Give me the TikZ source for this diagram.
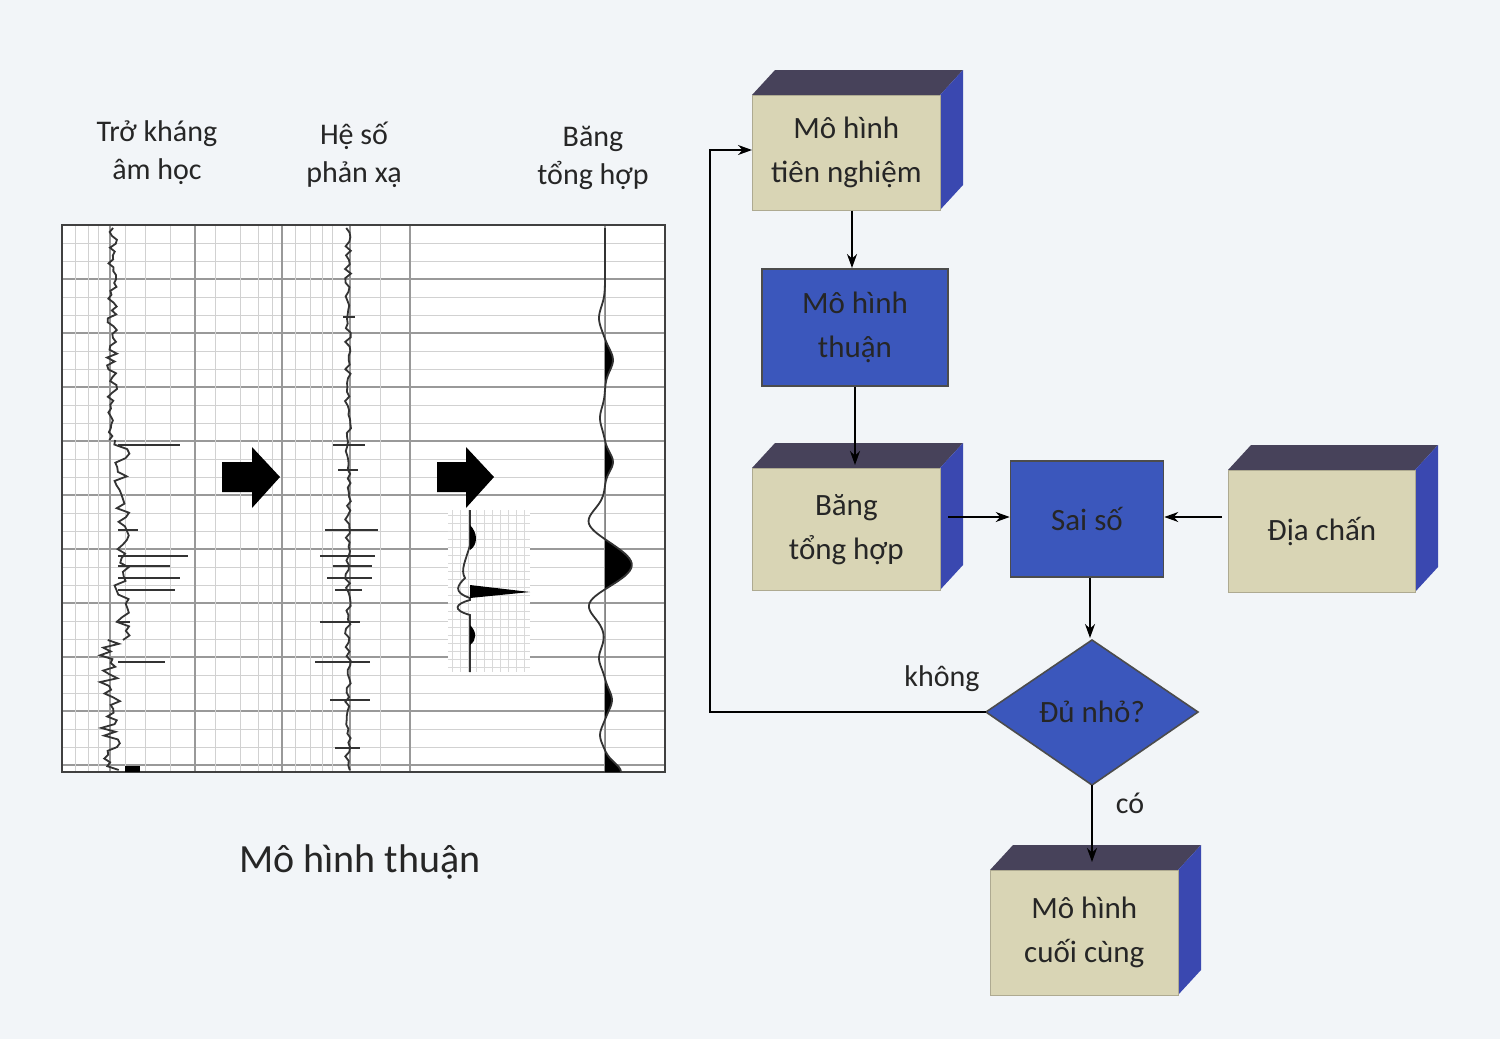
\documentclass[tikz,border=0pt]{standalone}
\usepackage{fontspec}
\setmainfont{Carlito}
\usetikzlibrary{arrows.meta}
\definecolor{beige}{HTML}{D9D5B5}
\definecolor{topc}{HTML}{47425A}
\definecolor{sidec}{HTML}{3A48B0}
\definecolor{flatb}{HTML}{3B57BC}
\definecolor{bg}{HTML}{F2F5F8}
\tikzset{
 lbl/.style={font=\fontsize{15}{19}\selectfont, align=center, text=black!85},
 btxt/.style={font=\fontsize{15.5}{22}\selectfont, align=center, text=black!85},
 conn/.style={-{Stealth[length=7pt,width=5pt]}, line width=0.9pt},
 flat/.style={draw=black!70, fill=flatb, line width=0.8pt},
 thin/.style={black!18, line width=0.35pt},
 thick/.style={black!40, line width=0.6pt},
 trace/.style={black!80, line width=0.9pt}
}
\newcommand{\boxthree}[6]{%
  \fill[topc] (#2,#3) -- (#2+23,#3-25) -- (#4+23,#3-25) -- (#4,#3) -- cycle;
  \fill[sidec] (#4,#3) -- (#4+23,#3-25) -- (#4+23,#5-25) -- (#4,#5) -- cycle;
  \node[fill=beige, draw=beige!80!black, line width=0.3pt, minimum width={(#4-#2)*0.5pt}, minimum height={(#5-#3)*0.5pt}, anchor=north west, inner sep=0pt, btxt] (#1) at (#2,#3) {#6};
}
\begin{document}
\begin{tikzpicture}[x=0.5pt,y=-0.5pt]
\fill[bg] (0,0) rectangle (1500,1039);
\useasboundingbox (0,0) rectangle (1500,1039);
% ---------- chart ----------
\fill[white] (62,225) rectangle (665,772);
\foreach \y in {243,261,...,772} \draw[thin] (62,\y) -- (665,\y);
\foreach \y in {279,333,...,772} \draw[thick] (62,\y) -- (665,\y);
\foreach \x in {75,88,98,125,145,170,215,240,258,272,295,310,322,332,380} \draw[thin] (\x,225) -- (\x,772);
\foreach \x in {110,195,282,350,410,605} \draw[thick] (\x,225) -- (\x,772);
\draw[black!75, line width=1pt] (62,225) rectangle (665,772);
% trace 1
\pgfmathsetseed{7}
\draw[trace] plot[domain=228:440, samples=55, variable=\t] ({112+5*rand},\t);
\draw[trace] plot[domain=440:640, samples=45, variable=\t] ({122+8*rand},\t);
\draw[trace] plot[domain=640:770, samples=35, variable=\t] ({110+10*rand},\t);
\foreach \y/\l in {445/180,530/138,556/188,566/170,578/180,590/175,622/130,662/165}
  \draw[trace] (118,\y) -- (\l,\y);
\fill[black] (125,766) rectangle (140,772);
% trace 2
\draw[trace] plot[domain=228:770, samples=120, variable=\t] ({348+3*rand},\t);
\foreach \y/\a/\b in {317/343/355,445/333/365,470/338/358,530/325/378,556/320/375,566/333/372,578/327/372,590/335/362,622/320/360,662/315/370,700/330/370,748/335/360}
  \draw[trace] (\a,\y) -- (\b,\y);
% inset
\fill[white] (448,510) rectangle (530,672);
\foreach \y in {515,523,...,670} \draw[black!15, line width=0.3pt] (448,\y) -- (530,\y);
\foreach \x in {452,460,...,530} \draw[black!15, line width=0.3pt] (\x,510) -- (\x,672);
\draw[trace] (470,510) -- (470,545) .. controls (466,560) and (460,570) .. (465,578) .. controls (458,585) and (452,592) .. (470,598) -- (470,600) .. controls (455,604) and (452,610) .. (470,615) -- (470,672);
\fill[black] (470,525) .. controls (478,533) and (478,545) .. (470,550) -- cycle;
\fill[black] (470,585) -- (530,592) -- (470,598) -- cycle;
\fill[black] (470,625) .. controls (477,632) and (477,640) .. (470,645) -- cycle;
% synthetic trace
\def\syn#1{605 + 27*exp(-((#1-565)/22)^2) - 17*exp(-((#1-522)/18)^2) - 17*exp(-((#1-605)/18)^2) + 8*exp(-((#1-360)/15)^2) - 6*exp(-((#1-318)/16)^2) + 8*exp(-((#1-462)/13)^2) + 7*exp(-((#1-700)/14)^2) - 6*exp(-((#1-658)/14)^2) + 16*exp(-((#1-772)/13)^2) - 5*exp(-((#1-418)/15)^2) - 5*exp(-((#1-735)/12)^2)}
\begin{scope}
\clip (605,225) rectangle (665,772);
\fill[black] plot[domain=228:772, samples=220, variable=\t] ({\syn{\t}},\t) -- (605,772) -- (605,228) -- cycle;
\end{scope}
\draw[trace] plot[domain=228:772, samples=220, variable=\t] ({\syn{\t}},\t);
% block arrows
\fill[black] (222,462) -- (252,462) -- (252,447) -- (280,477) -- (252,508) -- (252,492) -- (222,492) -- cycle;
\fill[black] (437,462) -- (466,462) -- (466,447) -- (494,477) -- (466,508) -- (466,492) -- (437,492) -- cycle;
% labels
\node[lbl] (l1) at (157,153) {Trở kháng\\âm học};
\node[lbl] (l2) at (354,155) {Hệ số\\phản xạ};
\node[lbl] (l3) at (593,158) {Băng\\tổng hợp};
\node[font=\fontsize{20}{24}\selectfont, text=black!85] (title) at (360,862) {Mô hình thuận};
% ---------- flowchart ----------
\boxthree{b1}{752}{95}{940}{210}{Mô hình\\tiên nghiệm}
\node[flat, btxt, minimum width=93pt, minimum height=58.5pt, inner sep=0pt] (b2) at (855,327.5) {Mô hình\\thuận};
\boxthree{b3}{752}{468}{940}{590}{Băng\\tổng hợp}
\node[flat, btxt, minimum width=76.5pt, minimum height=58pt, inner sep=0pt] (ss) at (1087,519) {Sai số};
\boxthree{dc}{1228}{470}{1415}{592}{Địa chấn}
\fill[flatb] (986,712) -- (1092,640) -- (1198,712) -- (1092,785) -- cycle;
\draw[black!70, line width=0.8pt] (986,712) -- (1092,640) -- (1198,712) -- (1092,785) -- cycle;
\node[btxt] (d) at (1092,712) {Đủ nhỏ?};
\coordinate (dl) at (986,712);
\coordinate (db) at (1092,785);
\boxthree{fin}{990}{870}{1178}{995}{Mô hình\\cuối cùng}
\coordinate (c1) at (710,712);
\coordinate (c2) at (710,150);
\draw[conn] (b1.south -| 852,0) -- (852,268);
\draw[conn] (b2.south) -- (855,465);
\draw[conn] (948,517) -- (ss.west |- 0,517);
\draw[conn] (1222,517) -- (ss.east |- 0,517);
\draw[conn] (ss.south -| 1090,0) -- (1090,638);
\draw[conn] (dl) -- (c1) -- (c2) -- (b1.west |- c2);
\draw[conn] (db) -- (1092,862);
\node[lbl] (kh) at (942,679) {không};
\node[lbl] (co) at (1130,803) {có};
\end{tikzpicture}
\end{document}
